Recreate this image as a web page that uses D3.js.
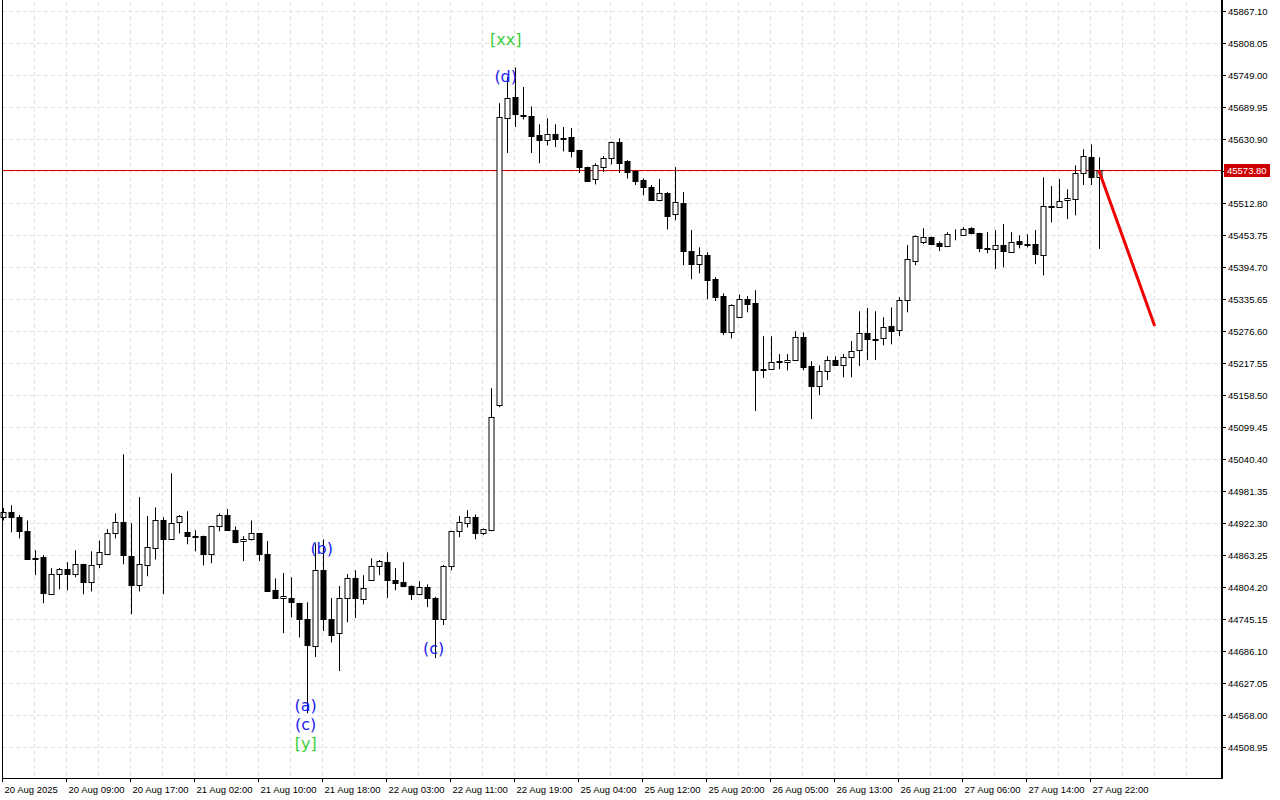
<!DOCTYPE html>
<html>
<head>
<meta charset="utf-8">
<script src="https://cdn.jsdelivr.net/npm/d3@7"></script>
<style>
  html, body { margin: 0; padding: 0; background: #fff; }
  svg { display: block; font-family: "Liberation Sans", Arial, sans-serif; }
  .wave { font-family: "DejaVu Sans", sans-serif; }
</style>
</head>
<body>
<svg id="chart" width="1280" height="800"></svg>
<script>
// hourly bars, 20 Aug 2025 .. 27 Aug 2025
const opens = [
  44933, 44942, 44933, 44907, 44857, 44859, 44792, 44828, 44837, 44828,
  44846, 44813, 44846, 44866, 44903, 44924, 44861, 44807, 44844, 44876,
  44927, 44892, 44924, 44905, 44898, 44898, 44866, 44916, 44937, 44909,
  44889, 44892, 44903, 44866, 44798, 44784, 44784, 44774, 44745, 44695,
  44835, 44745, 44719, 44784, 44820, 44782, 44817, 44843, 44850, 44817,
  44813, 44806, 44791, 44804, 44784, 44745, 44843, 44907, 44922, 44933,
  44903, 44909, 45140, 45669, 45708, 45675, 45673, 45638, 45629, 45640,
  45632, 45634, 45610, 45579, 45557, 45579, 45595, 45625, 45590, 45572,
  45555, 45542, 45518, 45531, 45492, 45512, 45424, 45400, 45416, 45372,
  45341, 45274, 45302, 45335, 45328, 45206, 45206, 45221, 45219, 45224,
  45265, 45212, 45175, 45202, 45223, 45213, 45228, 45241, 45272, 45261,
  45263, 45285, 45278, 45333, 45405, 45440, 45450, 45439, 45433, 45455,
  45453, 45466, 45457, 45429, 45427, 45435, 45422, 45442, 45437, 45437,
  45416, 45507, 45505, 45518, 45520, 45568, 45597, 45560
];
const highs = [
  44950, 44955, 44937, 44927, 44872, 44863, 44839, 44839, 44850, 44872,
  44847, 44870, 44890, 44911, 44940, 45049, 44922, 44970, 44935, 44951,
  44933, 45014, 44937, 44944, 44909, 44899, 44917, 44940, 44948, 44916,
  44898, 44927, 44904, 44889, 44820, 44830, 44822, 44775, 44776, 44885,
  44892, 44784, 44806, 44828, 44835, 44826, 44857, 44854, 44868, 44839,
  44850, 44807, 44815, 44809, 44786, 44845, 44908, 44935, 44946, 44938,
  44912, 45171, 45697, 45745, 45763, 45727, 45691, 45658, 45669, 45658,
  45653, 45651, 45611, 45580, 45586, 45599, 45626, 45632, 45592, 45573,
  45558, 45546, 45557, 45533, 45579, 45533, 45463, 45431, 45422, 45376,
  45346, 45326, 45344, 45341, 45352, 45267, 45267, 45234, 45234, 45276,
  45274, 45221, 45213, 45230, 45230, 45234, 45258, 45313, 45319, 45313,
  45302, 45320, 45339, 45435, 45453, 45466, 45451, 45442, 45459, 45464,
  45468, 45468, 45458, 45459, 45463, 45474, 45459, 45453, 45455, 45463,
  45560, 45544, 45557, 45538, 45582, 45612, 45621, 45597
];
const lows = [
  44927, 44905, 44894, 44854, 44826, 44774, 44792, 44800, 44798, 44822,
  44791, 44796, 44839, 44865, 44894, 44846, 44754, 44796, 44824, 44855,
  44791, 44891, 44903, 44883, 44870, 44844, 44848, 44907, 44908, 44885,
  44852, 44890, 44852, 44795, 44782, 44719, 44748, 44711, 44571, 44675,
  44723, 44702, 44649, 44739, 44747, 44772, 44816, 44826, 44784, 44798,
  44805, 44780, 44789, 44767, 44673, 44734, 44835, 44896, 44914, 44892,
  44900, 44907, 45136, 45605, 45653, 45667, 45605, 45586, 45619, 45616,
  45608, 45597, 45568, 45552, 45547, 45570, 45584, 45568, 45558, 45546,
  45527, 45517, 45516, 45464, 45481, 45398, 45372, 45383, 45335, 45332,
  45269, 45263, 45302, 45311, 45129, 45190, 45205, 45206, 45204, 45222,
  45204, 45114, 45158, 45186, 45212, 45191, 45191, 45212, 45223, 45223,
  45250, 45252, 45267, 45311, 45398, 45437, 45435, 45424, 45432, 45444,
  45452, 45455, 45422, 45420, 45391, 45394, 45421, 45429, 45431, 45400,
  45379, 45477, 45504, 45483, 45490, 45546, 45546, 45428
];
const closes = [
  44942, 44933, 44907, 44855, 44856, 44793, 44828, 44837, 44828, 44846,
  44813, 44844, 44868, 44903, 44924, 44863, 44807, 44846, 44878, 44927,
  44892, 44922, 44935, 44898, 44897, 44866, 44916, 44937, 44909, 44887,
  44892, 44903, 44866, 44796, 44784, 44787, 44776, 44745, 44697, 44835,
  44745, 44715, 44784, 44820, 44784, 44802, 44843, 44852, 44817, 44811,
  44806, 44791, 44804, 44784, 44745, 44843, 44907, 44924, 44933, 44903,
  44911, 45117, 45671, 45706, 45677, 45673, 45636, 45629, 45640, 45631,
  45631, 45608, 45579, 45553, 45582, 45595, 45625, 45586, 45570, 45553,
  45542, 45518, 45531, 45488, 45514, 45424, 45400, 45416, 45370, 45339,
  45274, 45324, 45335, 45326, 45204, 45204, 45219, 45219, 45224, 45265,
  45210, 45175, 45202, 45223, 45213, 45228, 45239, 45272, 45261, 45260,
  45284, 45276, 45333, 45409, 45451, 45450, 45437, 45433, 45455, 45456,
  45464, 45457, 45429, 45428, 45435, 45424, 45440, 45437, 45435, 45418,
  45507, 45505, 45516, 45522, 45568, 45599, 45560, 45573.8
];

const priceTicks = [
  44508.95, 44568.00, 44627.05, 44686.10, 44745.15, 44804.20, 44863.25, 44922.30,
  44981.35, 45040.40, 45099.45, 45158.50, 45217.55, 45276.60, 45335.65, 45394.70,
  45453.75, 45512.80, 45571.85, 45630.90, 45689.95, 45749.00, 45808.05, 45867.10
];
const timeLabels = [
  "20 Aug 2025", "20 Aug 09:00", "20 Aug 17:00", "21 Aug 02:00", "21 Aug 10:00",
  "21 Aug 18:00", "22 Aug 03:00", "22 Aug 11:00", "22 Aug 19:00", "25 Aug 04:00",
  "25 Aug 12:00", "25 Aug 20:00", "26 Aug 05:00", "26 Aug 13:00", "26 Aug 21:00",
  "27 Aug 06:00", "27 Aug 14:00", "27 Aug 22:00"
];
const labelEvery = 8;
const currentPrice = 45573.80;

// forecast arrow: [bar, price]
const forecast = [[137, 45573.8], [144, 45286]];

// wave marks: text, bar, price, kind
const waveMarks = [
  ["[xx]", 63, 45814, "major"],
  ["(d)", 63, 45747, "minor"],
  ["(b)", 40, 44876, "minor"],
  ["(c)", 54, 44690, "minor"],
  ["(a)", 38, 44585, "minor"],
  ["(c)", 38, 44551, "minor"],
  ["[y]", 38, 44516, "major"]
];

const svg = d3.select("#chart");
const plotLeft = 2, plotRight = 1222, plotTop = 2, plotBottom = 778;

const x = d3.scaleLinear().domain([0, 152]).range([2.7, 2.7 + 152 * 8]);
const y = d3.scaleLinear().domain([44508.95, 45867.10]).range([747, 11]);

// grid
const grid = svg.append("g").attr("stroke", "#e3e3e3").attr("stroke-dasharray", "4,3");
grid.selectAll("line.h").data(priceTicks).enter().append("line")
  .attr("x1", plotLeft).attr("x2", plotRight)
  .attr("y1", d => Math.round(y(d)) + 0.5).attr("y2", d => Math.round(y(d)) + 0.5);
grid.selectAll("line.v").data(d3.range(4, 152, 4)).enter().append("line")
  .attr("x1", d => Math.round(x(d)) - 0.5).attr("x2", d => Math.round(x(d)) - 0.5)
  .attr("y1", plotTop).attr("y2", plotBottom);

// current price line
svg.append("line")
  .attr("x1", plotLeft).attr("x2", plotRight)
  .attr("y1", Math.round(y(currentPrice)) + 0.5).attr("y2", Math.round(y(currentPrice)) + 0.5)
  .attr("stroke", "#e00000").attr("stroke-width", 1);

// candles
const bars = svg.append("g");
closes.forEach((c, i) => {
  const o = opens[i], cx = Math.round(x(i)) + 0.5;
  bars.append("line")
    .attr("x1", cx).attr("x2", cx)
    .attr("y1", y(highs[i])).attr("y2", y(lows[i]))
    .attr("stroke", "#000");
  const yt = Math.round(y(Math.max(o, c))), yb = Math.round(y(Math.min(o, c)));
  bars.append("rect")
    .attr("x", cx - 2.5).attr("y", yt + 0.5)
    .attr("width", 5).attr("height", Math.max(0, yb - yt))
    .attr("fill", c >= o ? "#fff" : "#000")
    .attr("stroke", "#000");
});

// forecast arrow
svg.append("line")
  .attr("x1", x(forecast[0][0])).attr("y1", y(forecast[0][1]))
  .attr("x2", x(forecast[1][0])).attr("y2", y(forecast[1][1]))
  .attr("stroke", "#f00000").attr("stroke-width", 3);

// wave labels
svg.selectAll("text.wave").data(waveMarks).enter().append("text")
  .attr("class", "wave")
  .attr("x", d => x(d[1]) - 1)
  .attr("y", d => y(d[2]))
  .attr("dominant-baseline", "central")
  .attr("text-anchor", "middle")
  .attr("font-size", 16)
  .attr("fill", d => d[3] === "major" ? "#3ccf3c" : "#2020f0")
  .text(d => d[0]);

// frame
svg.append("line").attr("x1", plotLeft + 0.5).attr("x2", plotLeft + 0.5).attr("y1", 0).attr("y2", plotBottom)
  .attr("stroke", "#000");
svg.append("line").attr("x1", plotRight).attr("x2", plotRight).attr("y1", 0).attr("y2", plotBottom + 1)
  .attr("stroke", "#000").attr("stroke-width", 2);
svg.append("line").attr("x1", plotLeft).attr("x2", plotRight).attr("y1", plotBottom + 0.5).attr("y2", plotBottom + 0.5)
  .attr("stroke", "#000");

// price axis
const yAxis = svg.append("g");
priceTicks.forEach(p => {
  const yy = Math.round(y(p)) + 0.5;
  yAxis.append("line").attr("x1", plotRight).attr("x2", plotRight + 4).attr("y1", yy).attr("y2", yy).attr("stroke", "#000");
  yAxis.append("text").attr("x", plotRight + 6).attr("y", yy).attr("dominant-baseline", "central")
    .attr("font-size", 9.5).attr("fill", "#000").text(p.toFixed(2));
});
const cy = Math.round(y(currentPrice));
yAxis.append("rect").attr("x", plotRight + 2).attr("y", cy - 6).attr("width", 46).attr("height", 13).attr("fill", "#cc0000");
yAxis.append("text").attr("x", plotRight + 5).attr("y", cy + 0.5).attr("dominant-baseline", "central")
  .attr("font-size", 9.5).attr("fill", "#fff").text(currentPrice.toFixed(2));

// time axis
const xAxis = svg.append("g");
timeLabels.forEach((t, k) => {
  const xx = Math.round(x(k * labelEvery)) - 0.5;
  xAxis.append("line").attr("x1", xx).attr("x2", xx).attr("y1", plotBottom).attr("y2", plotBottom + 4).attr("stroke", "#000");
  xAxis.append("text").attr("x", xx + 2).attr("y", 789).attr("dominant-baseline", "central")
    .attr("font-size", 9.5).attr("fill", "#000").text(t);
});
</script>
</body>
</html>
